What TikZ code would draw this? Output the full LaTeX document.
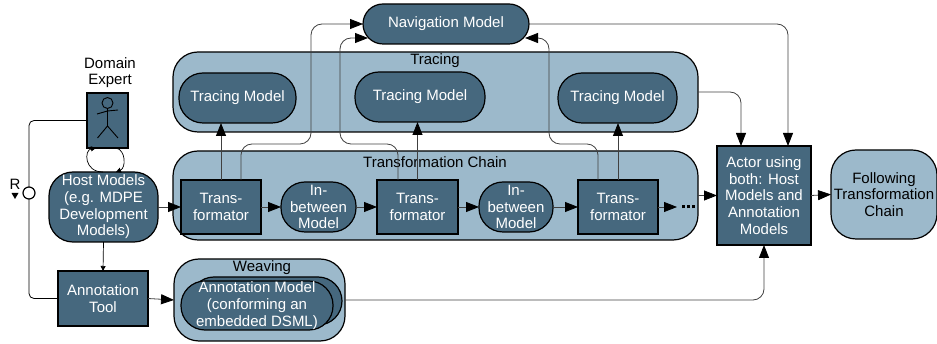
\documentclass[tikz,border=0pt]{standalone}
\usepackage{fontspec}
\setmainfont{Liberation Sans}
\usepackage{tikz}
\usetikzlibrary{positioning,arrows.meta}
\definecolor{darkfill}{HTML}{46687E}
\definecolor{lightfill}{HTML}{9CB9CB}
\definecolor{linegray}{HTML}{404040}

\begin{document}
\begin{tikzpicture}
    [ x = 1pt, y = -1pt
    , font = \fontsize{15}{16.7}\selectfont
    , box/.style =
      { draw=black, line width=1.2pt, fill=darkfill, text=white, align=center, inner sep=0pt, outer sep=0pt }
    , model/.style =
      { box, rounded corners=24pt }
    , group/.style =
      { draw=black, line width=1.2pt, fill=lightfill, rounded corners=25pt, inner sep=0pt, outer sep=0pt, align=center }
    , title/.style =
      { inner sep=0pt, align=center }
    , edge/.style =
      { draw=linegray, line width=.8pt, rounded corners=11pt, -{Triangle[length=13pt,width=10pt,black]} }
    , smalledge/.style =
      { draw=black, line width=.7pt, -{Triangle[length=5pt,width=5pt,black]} }
    , plain/.style =
      { draw=black, line width=.8pt, rounded corners=5pt }
    ]
    \useasboundingbox (0,0) rectangle (937,344);

    % containers
    \node [group, minimum width=525pt, minimum height=80pt] (tracing) at (435.5,92) {};
    \node [group, minimum width=525pt, minimum height=89pt] (chain) at (435.5,195.5) {};
    \node [group, minimum width=171pt, minimum height=82pt] (weaving) at (259.5,300) {};
    \node [title] (tracinglabel) at (435,61) {Tracing};
    \node [title] (chainlabel) at (435,162) {Transformation Chain};
    \node [title] (weavinglabel) at (262,268) {Weaving};

    % models
    \node [model, minimum width=166pt, minimum height=40pt, rounded corners=20pt] (nav) at (446,24) {Navigation Model};
    \node [model, minimum width=117pt, minimum height=50pt] (trace1) at (237.5,98) {Tracing Model};
    \node [model, minimum width=130pt, minimum height=50pt] (trace2) at (420,97) {Tracing Model};
    \node [model, minimum width=119pt, minimum height=50pt] (trace3) at (617.5,98) {Tracing Model};

    % transformation chain
    \node [box, minimum width=80pt, minimum height=54pt] (trans1) at (221,207) {Trans-\\formator};
    \node [model, minimum width=75pt, minimum height=50pt] (between1) [right=20pt of trans1] {In-\\between\\Model};
    \node [box, minimum width=81pt, minimum height=54pt] (trans2) [right=21pt of between1] {Trans-\\formator};
    \node [model, minimum width=74pt, minimum height=50pt] (between2) [right=21pt of trans2] {In-\\between\\Model};
    \node [box, minimum width=80pt, minimum height=54pt] (trans3) [right=25pt of between2] {Trans-\\formator};
    \node [inner sep=0pt] (dots) at (688.5,207) {\rule{3pt}{3pt}\hspace{2pt}\rule{3pt}{3pt}\hspace{2pt}\rule{3pt}{3pt}};

    % left side
    \node [title] (expertlabel) at (110,72.5) {Domain\\Expert};
    \node [box, minimum width=41pt, minimum height=55pt] (expert) at (107.5,120.5) {};
    \node [model, minimum width=109pt, minimum height=70pt] (host) at (103.5,207) {Host Models\\(e.g. MDPE\\Development\\Models)};
    \node [box, minimum width=90pt, minimum height=55pt] (tool) at (103,298.5) {Annotation\\Tool};
    \node [draw=black, line width=1.2pt, fill=white, circle, minimum size=12pt, inner sep=0pt, outer sep=0pt] (r) at (29,193) {};
    \node [title] (rlabel) at (15,184) {R};

    % annotation model stack
    \node [model, minimum width=152pt, minimum height=48pt] (annot2) at (266,301) {};
    \node [model, minimum width=152pt, minimum height=49pt] (annot1) at (257,305.5) {Annotation Model\\(conforming an\\embedded DSML)};

    % right side
    \node [box, minimum width=94pt, minimum height=99pt] (actor) at (764,195.5) {Actor using\\both: Host\\Models and\\Annotation\\Models};
    \node [group, minimum width=106pt, minimum height=89pt] (follow) at (884,194.5) {Following\\Transformation\\Chain};

    % stick figure
    \draw [line width=.9pt] (107.5,103) circle (5.5pt);
    \draw [line width=.9pt] (107.5,108.5) -- (107.5,126) (97,114) -- (107.5,111) -- (118,110)
      (97.5,138) -- (107.5,126) -- (118,138);

    % coordinates of the bends
    \coordinate (dotsin) at (677,207);
    \coordinate (navin2) at (368,38);
    \coordinate (navin3) at (525,38);
    \coordinate (out1) at (241,180);
    \coordinate (out2) at (398,180);
    \coordinate (out3) at (598,180);
    \coordinate (tracingin) at (741,146);
    \coordinate (navin) at (788,146);

    \draw [edge] (host.east |- trans1) -- (trans1);
    \draw [edge] (trans1) -- (between1);
    \draw [edge] (between1) -- (trans2);
    \draw [edge] (trans2) -- (between2);
    \draw [edge] (between2) -- (trans3);
    \draw [edge] (trans3) -- (dotsin);
    \draw [edge] (chain.east) -- (actor.west);
    \draw [edge] (actor.east) -- (follow.west);
    \draw [edge] (trans1.north) -- (trans1.north |- trace1.south);
    \draw [edge] (trans2.north) -- (trans2.north |- trace2.south);
    \draw [edge] (trans3.north) -- (trans3.north |- trace3.south);
    \draw [edge] (out1) -- (241,144) -- (311,144) -- (311,24) -- (nav.west);
    \draw [edge] (out2) -- (398,144) -- (340,144) -- (340,38) -- (navin2);
    \draw [edge] (out3) -- (598,144) -- (549,144) -- (549,38) -- (navin3);
    \draw [edge] (nav.east) -- (788,24) -- (navin);
    \draw [edge] (tracing.east) -- (741,92) -- (tracingin);
    \draw [edge] (tool.east) -- (weaving.west);
    \draw [edge] (weaving.east) -- (764,300) -- (actor.south);
    \draw [smalledge] (host.south) -- (tool.north);
    \draw [plain] (expert.west) -- (29,120.5) -- (r.north);
    \draw [plain] (r.south) -- (29,298.5) -- (tool.west);
    \draw [smalledge] (103,172) .. controls (84,172) and (84,150) .. (96,148);
    \draw [smalledge] (116,148) .. controls (126,150) and (126,168) .. (116,172);
    \fill (11.5,193) -- (18.5,193) -- (15,199) -- cycle;
  \end{tikzpicture}
\end{document}
